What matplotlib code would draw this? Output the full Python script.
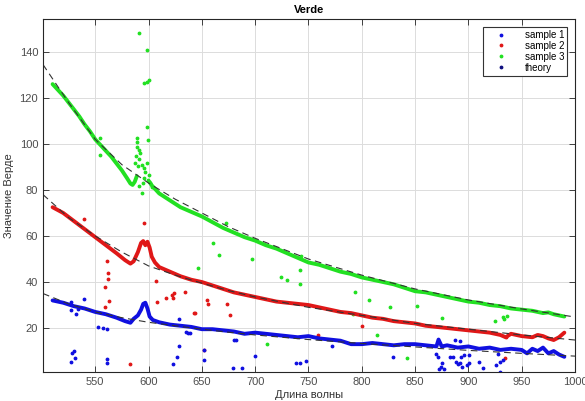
import numpy as np
import matplotlib
matplotlib.use("Agg")
import matplotlib.pyplot as plt
from matplotlib.lines import Line2D

plt.rcParams['font.family'] = ['Liberation Sans', 'DejaVu Sans']

# --- main measured curves (dense dots in the original, read every few nm) ---
wl_green = [510, 515, 520, 525, 530, 535, 540, 545, 550, 555, 560, 565, 570, 575, 580, 583, 585, 587, 589,
            595, 601, 603, 606, 610, 615, 620, 625, 630, 640, 650, 660, 670, 680, 690, 700, 710, 720, 730,
            740, 750, 760, 770, 780, 790, 800, 810, 820, 830, 840, 850, 860, 870, 880, 890, 900, 910, 920,
            930, 940, 950, 960, 970, 975, 980, 985, 990]
v_green = [126, 123.5, 121, 118, 115, 112, 108.5, 105.5, 102, 99.5, 97, 94.5, 91.5, 88.5, 85, 82.8, 82.2, 83.5, 86,
           np.nan, 83.5, 82, 80.5, 78.5, 77, 75.5, 74, 72.5, 70.5, 68.5, 66, 63.5, 61.5, 59.5, 58, 56, 54.5, 52.5,
           50.5, 48.5, 47.5, 46, 44.5, 43.5, 42, 41, 40, 39, 37.5, 36, 35.5, 34.5, 33.5, 32.5, 31.5, 31, 30,
           29.5, 28.5, 28, 27.5, 26.5, 26.8, 26, 25.5, 25]

wl_red = [510, 520, 530, 540, 550, 560, 570, 578, 583, 586, 590, 593, 595, 597, 599, 601, 603, 606, 610, 620,
          630, 640, 650, 660, 670, 680, 690, 700, 710, 720, 730, 740, 750, 760, 770, 780, 790, 800, 810, 820,
          830, 840, 850, 860, 870, 880, 890, 900, 910, 920, 930, 935, 940, 950, 960, 965, 970, 975, 980, 985, 990]
v_red = [72.5, 70, 66.5, 63, 59.5, 56, 52.5, 49.5, 48, 49, 53, 57, 57.8, 56, 57.5, 55, 51, 48.5, 46.5, 44.5,
         42.5, 41, 40, 38.5, 37, 35.5, 34.5, 33.5, 32.5, 31.5, 31, 30.5, 30, 29, 28, 27, 26.5, 25.5, 24.5, 24,
         23, 22.5, 22, 21, 20.5, 20, 19.5, 19, 18.5, 18, 17, 16, 17.5, 16.5, 16, 17, 16.5, 15.5, 14.8, 16, 18]

wl_blue = [510, 520, 530, 540, 550, 560, 570, 578, 583, 586, 590, 593, 595, 597, 599, 601, 604, 610, 620, 630,
           640, 650, 660, 670, 680, 690, 700, 710, 720, 730, 740, 750, 760, 770, 780, 790, 800, 810, 820, 830,
           840, 850, 860, 870, 872, 875, 880, 890, 900, 910, 920, 930, 940, 950, 955, 960, 965, 970, 975, 980,
           985, 990]
v_blue = [32, 31, 29.5, 28.5, 27, 26, 24.5, 23, 22.3, 24, 25.5, 28, 30.5, 31, 28.5, 25, 23.5, 22.5, 21.5, 21,
          20.5, 19.5, 19.5, 19, 18.5, 17.5, 18, 17.5, 17, 16.5, 16, 16.5, 15.5, 15, 14.5, 13, 13, 13.5, 13, 12.5,
          13, 13, 12.5, 12, 15, 12, 12.5, 11.5, 12, 11, 11.5, 10.5, 11, 10.5, 9, 11, 10, 11.5, 9, 10, 8.5, 7.5]

# --- theory (dashed) curves ---
wl_theory = [501, 525, 550, 575, 600, 625, 650, 675, 700, 750, 800, 850, 900, 950, 1000]
t_green = [134.5, 118, 102, 91, 83, 76, 70, 64, 59, 50, 43, 37, 32.2, 28.3, 24.8]
t_red = [78, 68, 60, 53, 47, 43, 39.5, 36.3, 33.5, 29, 25.5, 22, 19.5, 17, 14.8]
t_blue = [35, 30.5, 27, 24.5, 22.5, 21, 19.5, 18.2, 17, 15, 13.3, 11.8, 10.3, 9, 7.8]

# --- scattered outlier points ---
out_green_x = [590.6, 598.4, 596.2, 600, 598.4, 599, 599.4, 589, 589, 589.6, 590.6, 592.2, 588.3, 591.3, 587.4,
               590.3, 593.7, 595.3, 596.8, 598.4, 600, 599.4, 596.2, 594.4, 591.3, 593.7, 601.6, 603.1,
               554.5, 554.5, 660, 646, 666, 673, 697, 710.7, 724, 730, 741.8, 741.8, 742.8, 792, 793.9,
               806.4, 813.9, 826.5, 842, 851.6, 875.5, 924.7, 932, 933, 936.5]
out_green_y = [148.1, 140.9, 126.7, 128, 127.1, 107.5, 101.7, 102.5, 101, 98.8, 97.4, 96, 94.7, 93.3, 91.8,
               90.4, 90.9, 89.4, 88, 91.6, 86.5, 84.3, 85.1, 83, 81.6, 78.6, 83, 81.4,
               102.5, 95.2, 57, 46, 51.7, 65.6, 50, 13, 42, 40.9, 45.2, 39.1, 51.3, 26.1, 35.8,
               32.2, 17, 29, 6.8, 29.6, 24.2, 23.2, 24.6, 23.9, 25.2]

out_red_x = [539.5, 596, 560.8, 562, 562, 559, 563, 559, 582.8, 606.9, 607.8, 616.6, 622, 624, 623, 634, 643,
             644, 651.8, 654.9, 656, 673.7, 676, 759, 800, 934, 935.6]
out_red_y = [67.2, 65.5, 49.3, 44, 41.3, 37.8, 31.7, 29, 4.3, 40.6, 31.4, 32.9, 34.3, 35.2, 33, 35.6, 26.4,
             26.5, 10.4, 32.2, 30.4, 30.3, 25.6, 17, 20.9, 6.8, 16]

out_blue_x = [527, 527, 532, 534, 539, 553, 557, 561, 528, 530, 527, 531, 561, 561, 623, 627, 629, 629, 635,
              637, 639, 652, 652, 679, 688, 700, 680, 682, 738, 742, 748, 772, 829,
              869.8, 871.4, 875.5, 874.5, 872.3, 876.7, 882.4, 885.5, 887, 891.8, 888, 890, 892.6, 894,
              893.4, 895.8, 898.7, 901, 900.6, 910, 913.7, 925.6, 929.4, 930, 932.5, 928]
out_blue_y = [31.3, 27.8, 26, 28.3, 32.6, 20.4, 20, 19.6, 9, 10, 5.2, 7, 6.5, 4.8, 4.3, 7.4, 12, 23.9, 18.3,
              17.8, 17.8, 10.4, 6, 2.6, 2.6, 7.8, 15, 15, 4.8, 4.8, 5.7, 12.2, 7.4,
              8.7, 7.5, 4.6, 3.2, 2.0, 2.0, 7.5, 7.5, 14.8, 14.3, 5.4, 4.2, 4.6, 3.2,
              7.5, 8.3, 3.9, 8.3, 4.6, 5.4, 2.5, 3.9, 5.4, 1.0, 6.1, 8.7]

c_blue = '#1010e0'
c_red = '#e01818'
c_green = '#22e022'
c_theory = '#101080'

fig = plt.figure(figsize=(5.85, 4.01), dpi=100)
ax = fig.add_axes([43 / 585, 29 / 401, 532 / 585, 353 / 401])

# outliers first, curves on top
ax.plot(out_green_x, out_green_y, '.', color=c_green, ms=3.5)
ax.plot(out_red_x, out_red_y, '.', color=c_red, ms=3.5)
ax.plot(out_blue_x, out_blue_y, '.', color=c_blue, ms=3.5)

ax.plot(wl_green, v_green, '-', color=c_green, lw=2.8, solid_capstyle='round')
ax.plot(wl_red, v_red, '-', color=c_red, lw=2.8, solid_capstyle='round')
ax.plot(wl_blue, v_blue, '-', color=c_blue, lw=2.8, solid_capstyle='round')

for t in (t_green, t_red, t_blue):
    ax.plot(wl_theory, t, color='0.2', lw=0.8, dashes=(6, 4))

ax.set_xlim(501, 1000)
ax.set_ylim(0.9, 154.3)
ax.set_xticks(np.arange(550, 1001, 50))
ax.set_yticks(np.arange(20, 141, 20))
ax.grid(True, color='#dcdcdc', lw=0.7)
ax.set_axisbelow(True)
ax.tick_params(direction='in', length=4, width=0.6, top=True, right=True,
               labelsize=8, colors='#262626', labelcolor='#4d4d4d')
for s in ax.spines.values():
    s.set_linewidth(0.8)
    s.set_color('#262626')

ax.set_title('Verde', fontsize=8, fontweight='bold', pad=4)
ax.set_xlabel('Длина волны', fontsize=8, color='#333333', labelpad=2)
ax.set_ylabel('Значение Верде', fontsize=8, color='#333333', labelpad=4)

handles = [Line2D([], [], ls='none', marker='.', ms=3.5, color=c)
           for c in (c_blue, c_red, c_green, c_theory)]
leg = ax.legend(handles, ['sample 1', 'sample 2', 'sample 3', 'theory'],
                loc='upper right', bbox_to_anchor=(1 - 8 / 532, 1 - 8 / 353), borderaxespad=0,
                fontsize=7, fancybox=False, framealpha=1, edgecolor='#333333',
                handlelength=3.2, handletextpad=0.8, labelspacing=0.1, borderpad=0.3)
leg.get_frame().set_linewidth(0.8)

fig.savefig('out.png', dpi=100)
